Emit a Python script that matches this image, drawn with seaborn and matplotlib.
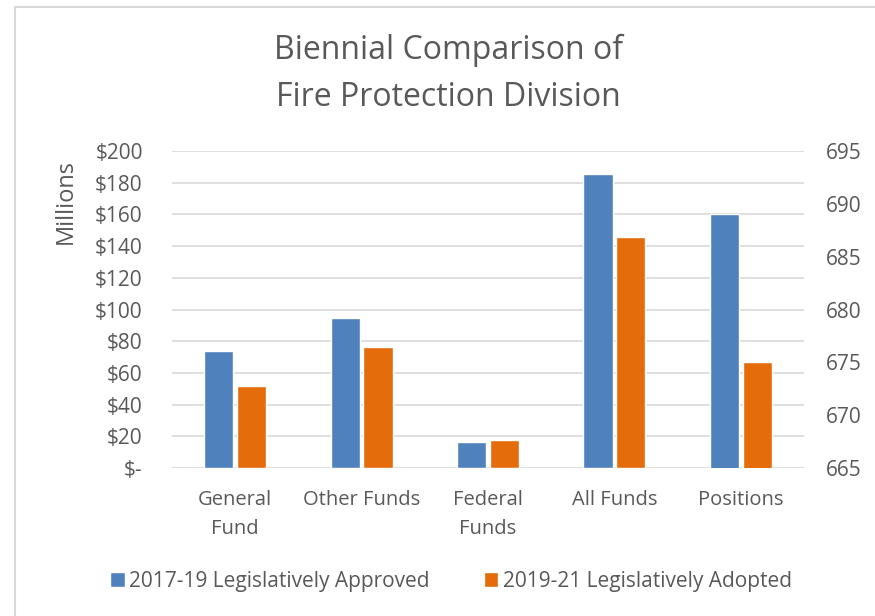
import pandas as pd
import matplotlib
matplotlib.use("Agg")
import matplotlib.pyplot as plt
import matplotlib.ticker as mticker
from matplotlib.patches import Rectangle
import seaborn as sns

# values (money in $ millions, positions as headcount)
categories = ["General\nFund", "Other Funds", "Federal\nFunds", "All Funds", "Positions"]
series = ["2017-19 Legislatively Approved", "2019-21 Legislatively Adopted"]
money_categories = categories[:4]
approved_money = [73.7, 94.9, 16.6, 185.3]
adopted_money = [51.7, 76.2, 17.7, 145.5]
positions_approved = [689]
positions_adopted = [675]

colors = ["#4F81BD", "#E46C0A"]
txt = "#595959"
grid = "#D9D9D9"

money = pd.DataFrame({
    "Category": money_categories * 2,
    "Series": [series[0]] * 4 + [series[1]] * 4,
    "Value": approved_money + adopted_money,
})
pos = pd.DataFrame({
    "Category": ["Positions"] * 2,
    "Series": series,
    "Value": positions_approved + positions_adopted,
})

sns.set_style("white")
plt.rcParams["font.family"] = ["Open Sans", "DejaVu Sans"]

fig = plt.figure(figsize=(8.75, 6.16), dpi=100)
ax = fig.add_axes([172 / 875, 1 - 468 / 616, (804 - 172) / 875, (468 - 151) / 616])
ax2 = ax.twinx()

bar_kw = dict(x="Category", y="Value", hue="Series", order=categories,
              hue_order=series, palette=colors, width=0.52, gap=0.11,
              saturation=1, errorbar=None)
sns.barplot(data=money, ax=ax, **bar_kw)
sns.barplot(data=pos, ax=ax2, **bar_kw)

ax.set_ylim(0, 200)
ax.set_yticks(range(0, 201, 20))
ax.yaxis.set_major_formatter(mticker.FuncFormatter(lambda v, p: "$-" if v == 0 else f"${v:.0f}"))
ax2.set_ylim(665, 695)
ax2.set_yticks(range(665, 696, 5))
ax.set_xlim(-0.5, 4.5)

ax.yaxis.grid(True, color=grid, lw=1.2)
ax.set_axisbelow(True)
for a in (ax, ax2):
    for s in a.spines.values():
        s.set_visible(False)
    a.tick_params(length=0, labelsize=15, colors=txt)
    a.set_xlabel("")
    a.set_ylabel("")
ax.tick_params(axis="y", pad=21)
ax2.tick_params(axis="y", pad=16)
ax.tick_params(axis="x", pad=16, labelsize=14.5)
for lbl in ax.get_xticklabels():
    lbl.set_linespacing(1.6)
    lbl.set_verticalalignment("top")

handles, labels = ax.get_legend_handles_labels()
ax.get_legend().remove()
if ax2.get_legend():
    ax2.get_legend().remove()
fig.legend(handles, labels, loc="center", bbox_to_anchor=(451 / 875, 1 - 581 / 616),
           ncol=2, frameon=False, fontsize=15, labelcolor=txt,
           handlelength=0.7, handleheight=0.7, handletextpad=0.2, columnspacing=2.6)

fig.text(448 / 875, 1 - 50 / 616, "Biennial Comparison of", ha="center", va="center",
         fontsize=23, color=txt)
fig.text(448 / 875, 1 - 97 / 616, "Fire Protection Division", ha="center", va="center",
         fontsize=23, color=txt)
fig.text(66 / 875, 1 - 201 / 616, "Millions", rotation=90, ha="center", va="center",
         fontsize=17, color=txt)

fig.patches.append(Rectangle((15 / 875, -0.05), 1.1, 1 - 7 / 616 + 0.05,
                             transform=fig.transFigure, fill=False, edgecolor=grid, lw=1.5))

fig.savefig("out.png", dpi=100)
